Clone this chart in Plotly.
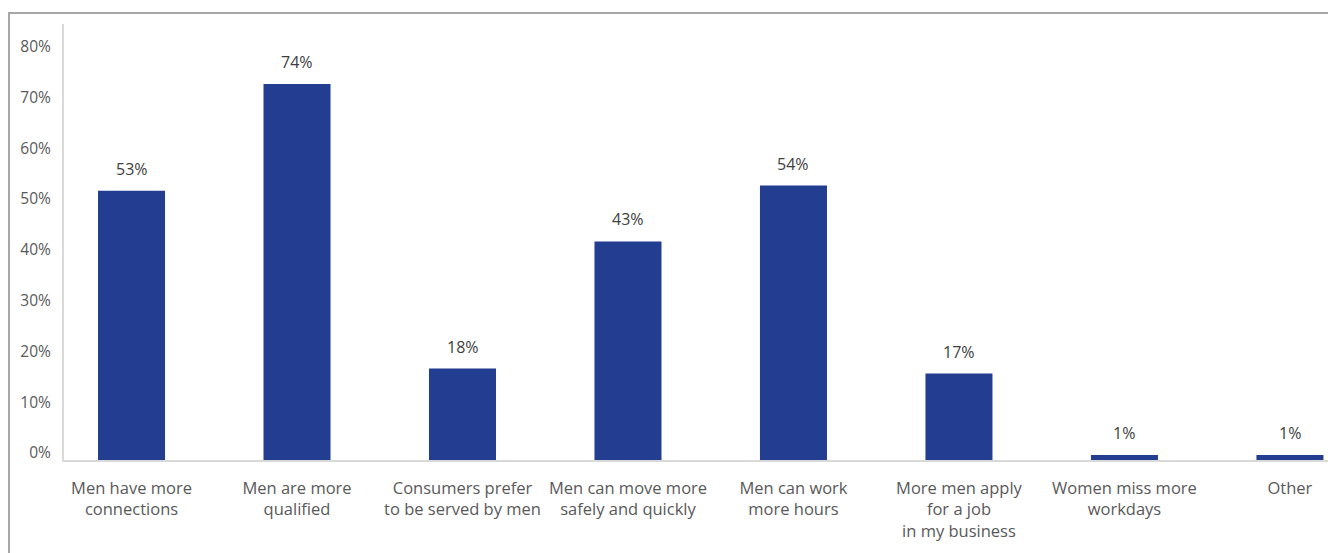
import plotly.graph_objects as go

# Reasons given for preferring to hire men (share of respondents, %)
categories = [
    "Men have more<br>connections",
    "Men are more<br>qualified",
    "Consumers prefer<br>to be served by men",
    "Men can move more<br>safely and quickly",
    "Men can work<br>more hours",
    "More men apply<br>for a job<br>in my business",
    "Women miss more<br>workdays",
    "Other",
]
shares = [53, 74, 18, 43, 54, 17, 1, 1]
y_ticks = [0, 10, 20, 30, 40, 50, 60, 70, 80]
y_tick_text = [f"{v}%" for v in y_ticks]

BAR = "#233D91"
TEXT = "#595959"
FONT = "'Open Sans', Lato, sans-serif"

fig = go.Figure(
    go.Bar(
        x=categories,
        y=shares,
        marker=dict(color=BAR, line=dict(width=0)),
        width=0.405,
        hoverinfo="x+y",
    )
)

# value labels sitting above each bar
for cat, val in zip(categories, shares):
    fig.add_annotation(
        x=cat, y=val, xref="x", yref="y",
        text=f"{val}%", showarrow=False,
        yanchor="middle", yshift=22,
        font=dict(family=FONT, size=16, color="#404040"),
    )

fig.update_layout(
    width=1328,
    height=553,
    margin=dict(l=64, r=0, t=24, b=93),
    paper_bgcolor="white",
    plot_bgcolor="white",
    showlegend=False,
    font=dict(family=FONT, size=16, color=TEXT),
    shapes=[
        # outer frame (top and left edges visible)
        dict(
            type="rect", xref="paper", yref="paper",
            x0=-0.0435, x1=1.2, y0=-0.5, y1=1.0252,
            line=dict(color="#A6A6A6", width=2),
            fillcolor="rgba(0,0,0,0)", layer="below",
        )
    ],
)

fig.update_xaxes(
    type="category",
    range=[-0.408, 7.23],
    showline=True,
    linecolor="#D9D9D9",
    linewidth=2,
    showgrid=False,
    ticks="",
    tickfont=dict(family=FONT, size=16.5, color=TEXT),
    ticklabelstandoff=12,
)

fig.update_yaxes(
    range=[0, 85.8],
    tickvals=y_ticks,
    ticktext=y_tick_text,
    showline=True,
    linecolor="#D9D9D9",
    linewidth=2,
    showgrid=False,
    zeroline=False,
    ticks="",
    tickfont=dict(family=FONT, size=15.5, color=TEXT),
    ticklabelstandoff=8,
    ticklabelshift=-7,
)

fig.write_html("out.html")
